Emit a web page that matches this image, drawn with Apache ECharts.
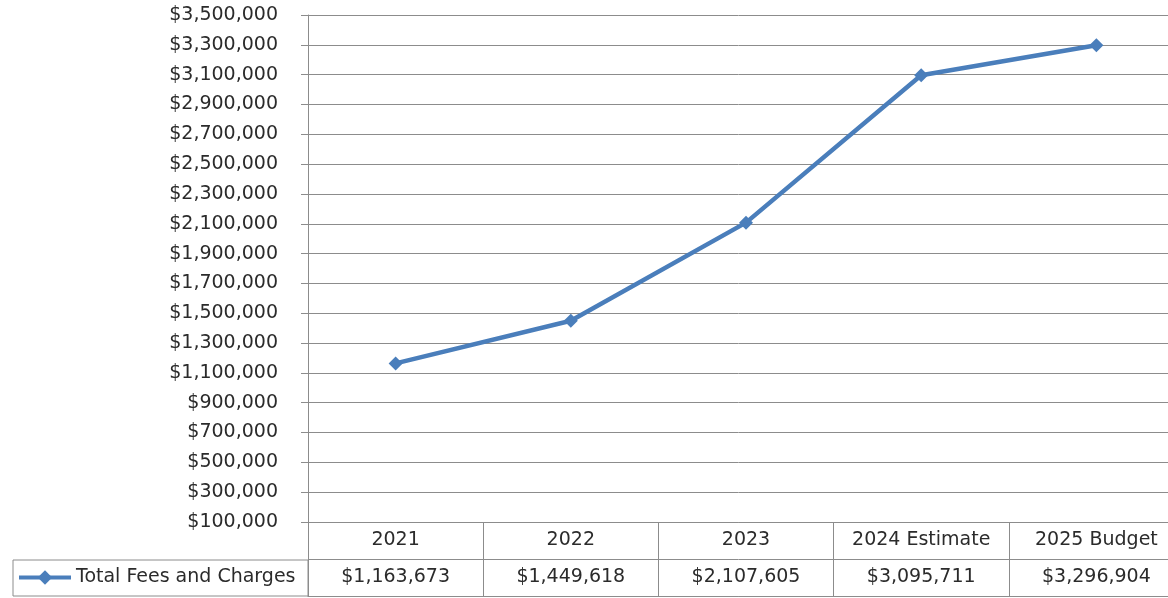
<!DOCTYPE html>
<html>
<head>
<meta charset="utf-8">
<script src="https://cdn.jsdelivr.net/npm/echarts@6/dist/echarts.min.js"></script>
<style>
  html, body { margin: 0; padding: 0; background: #fff; }
  #chart { width: 1168px; height: 598px; }
</style>
</head>
<body>
<div id="chart"></div>
<script>
const years = ['2021', '2022', '2023', '2024 Estimate', '2025 Budget']
const totalFees = [1163673, 1449618, 2107605, 3095711, 3296904]
const seriesName = 'Total Fees and Charges'
const tableRows = ['values', 'header']

const font = 'DejaVu Sans'
const fontSize = 19
const textColor = '#2b2b2b'
const gridColor = '#8c8c8c'
const lineColor = '#4a7ebb'

function money(v) {
  return '$' + Math.round(v).toLocaleString('en-US')
}

const chart = echarts.init(document.getElementById('chart'))

// the data table under the plot is a second grid, its text drawn as scatter labels
function tableSeries(name, row, text) {
  return {
    name: name,
    type: 'scatter',
    xAxisIndex: 1,
    yAxisIndex: 1,
    silent: true,
    symbolSize: 1,
    itemStyle: { color: '#ffffff', opacity: 1 },
    data: years.map((y, i) => [y, row, i]),
    label: {
      show: true,
      position: 'inside',
      fontFamily: font,
      fontSize: fontSize,
      color: textColor,
      formatter: (p) => text(p.value[2])
    }
  }
}

chart.setOption({
  animation: false,
  textStyle: { fontFamily: font },
  legend: {
    data: [seriesName],
    left: 17,
    top: 568,
    itemWidth: 52,
    itemHeight: 18,
    itemGap: 0,
    padding: 0,
    lineStyle: { width: 4 },
    textStyle: { fontFamily: font, fontSize: fontSize, color: textColor }
  },
  grid: [
    { left: 308, width: 876, top: 15, bottom: 76, outerBoundsMode: 'none' },
    { left: 308, width: 876, top: 522, height: 74, outerBoundsMode: 'none', show: false }
  ],
  graphic: [
    {
      type: 'rect',
      shape: { x: 13, y: 560, width: 295, height: 36 },
      style: { fill: 'none', stroke: gridColor, lineWidth: 1 },
      silent: true
    }
  ],
  xAxis: [
    {
      type: 'category',
      gridIndex: 0,
      data: years,
      boundaryGap: true,
      axisLine: { show: false },
      axisTick: { show: false },
      axisLabel: { show: false },
      splitLine: { show: false }
    },
    {
      type: 'category',
      gridIndex: 1,
      data: years,
      boundaryGap: true,
      axisLine: { show: true, lineStyle: { color: gridColor } },
      axisTick: { show: false },
      axisLabel: { show: false },
      splitLine: { show: true, lineStyle: { color: gridColor } }
    }
  ],
  yAxis: [
    {
      type: 'value',
      gridIndex: 0,
      min: 100000,
      max: 3500000,
      interval: 200000,
      axisLine: { show: true, lineStyle: { color: gridColor } },
      axisTick: { show: true, length: 7, lineStyle: { color: gridColor } },
      axisLabel: {
        margin: 30,
        fontFamily: font,
        fontSize: fontSize,
        color: textColor,
        formatter: money
      },
      splitLine: { show: true, lineStyle: { color: gridColor } }
    },
    {
      type: 'category',
      gridIndex: 1,
      data: tableRows,
      boundaryGap: true,
      axisLine: { show: true, lineStyle: { color: gridColor } },
      axisTick: { show: false },
      axisLabel: { show: false },
      splitLine: { show: true, lineStyle: { color: gridColor } }
    }
  ],
  series: [
    {
      name: seriesName,
      type: 'line',
      xAxisIndex: 0,
      yAxisIndex: 0,
      data: totalFees,
      symbol: 'diamond',
      symbolSize: 14,
      lineStyle: { color: lineColor, width: 4.5 },
      itemStyle: { color: lineColor }
    },
    tableSeries('header', 'header', (i) => years[i]),
    tableSeries('values', 'values', (i) => money(totalFees[i]))
  ]
})
</script>
</body>
</html>
